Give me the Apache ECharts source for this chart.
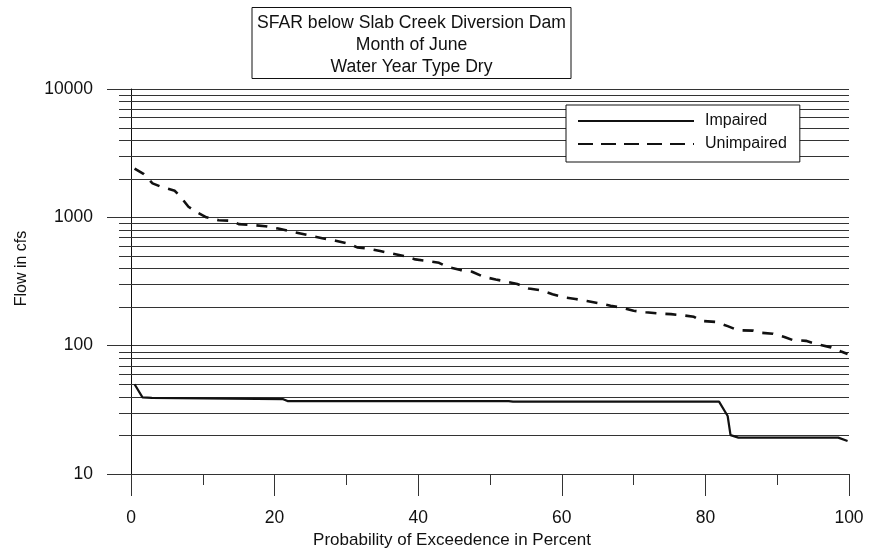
<!DOCTYPE html>
<html>
<head>
<meta charset="utf-8">
<script src="https://cdn.jsdelivr.net/npm/echarts@6/dist/echarts.min.js"></script>
<style>
  html, body { margin: 0; padding: 0; background: #fff; }
  #chart { width: 870px; height: 556px; }
</style>
</head>
<body>
<div id="chart"></div>
<script>
// Flow-duration values: exceedence probability (%) and flow (cfs)
const impairedPct = [0.5, 1.6, 2.9, 3.1, 21.2, 21.8, 52.6, 53.2, 81.9, 83.1, 83.5, 84.6, 98.5, 99.8];
const impairedCfs = [50, 39.5, 39.2, 38.3, 38.3, 37.0, 37.0, 36.6, 36.6, 28.3, 20.1, 19.2, 19.2, 18.1];

const unimpairedPct = [0.5, 1.8, 3.0, 4.3, 6.1, 7.1, 8.0, 9.1, 10.5, 12.2, 14.0, 15.0, 17.0, 18.7, 20.5,
  21.9, 23.6, 25.2, 26.8, 28.5, 30.5, 31.5, 33.1, 34.7, 36.3, 38.0, 39.6, 41.2, 42.9, 44.0,
  45.9, 47.5, 49.1, 50.8, 52.4, 53.8, 55.4, 57.0, 58.7, 60.3, 61.9, 63.5, 65.4, 66.8, 68.4,
  70.0, 71.7, 73.5, 75.2, 76.6, 78.4, 79.4, 81.5, 83.1, 84.5, 86.6, 87.7, 89.4, 91.0, 92.1,
  94.0, 95.2, 97.5, 98.9, 99.8];
const unimpairedCfs = [2400, 2170, 1840, 1720, 1610, 1400, 1210, 1100, 1000, 950, 940, 885, 870, 853, 818,
  785, 749, 714, 685, 657, 618, 583, 570, 546, 523, 499, 470, 458, 442, 412,
  388, 377, 344, 328, 315, 302, 279, 271, 252, 238, 231, 223, 213, 205, 197,
  187, 182, 178, 176, 173, 168, 156, 153, 142, 132, 131, 126, 124, 117, 111,
  109, 104, 97, 90, 86];

// Intermediate log-scale gridlines between the decades
const minorFlowTicks = [20, 30, 40, 50, 60, 70, 80, 90,
  200, 300, 400, 500, 600, 700, 800, 900,
  2000, 3000, 4000, 5000, 6000, 7000, 8000, 9000];

const titleLines = ['SFAR below Slab Creek Diversion Dam', 'Month of June', 'Water Year Type Dry'];
const seriesNames = ['Impaired', 'Unimpaired'];

const FONT = 'Liberation Sans, Arial, sans-serif';
const INK = '#111';
const GRID_INK = '#333';

const zip = (xs, ys) => xs.map((x, i) => [x, ys[i]]);

const chart = echarts.init(document.getElementById('chart'), null, { renderer: 'canvas' });

chart.setOption({
  animation: false,
  backgroundColor: '#fff',
  textStyle: { fontFamily: FONT, color: INK },
  title: {
    text: titleLines.join('\n'),
    left: 406.5,
    top: 7,
    textAlign: 'center',
    padding: [5, 5, 1, 5],
    borderColor: INK,
    borderWidth: 1,
    textStyle: { fontFamily: FONT, fontSize: 17.6, fontWeight: 'normal', color: INK, lineHeight: 22 }
  },
  legend: {
    data: [
      { name: seriesNames[0] },
      { name: seriesNames[1], lineStyle: { type: [15, 8] } }
    ],
    orient: 'vertical',
    left: 566,
    top: 105,
    padding: [8, 13, 10, 11],
    itemGap: 7,
    itemWidth: 116,
    itemHeight: 14,
    itemStyle: { opacity: 0 },
    backgroundColor: '#fff',
    borderColor: INK,
    borderWidth: 1,
    borderRadius: 0,
    textStyle: { fontFamily: FONT, fontSize: 16, color: INK, padding: [0, 0, 0, 6] }
  },
  grid: { left: 131, right: 21, top: 89, bottom: 82, containLabel: false },
  xAxis: {
    type: 'value',
    min: 0,
    max: 100,
    interval: 20,
    name: 'Probability of Exceedence in Percent',
    nameLocation: 'middle',
    nameGap: 56,
    nameTextStyle: { fontFamily: FONT, fontSize: 17, color: INK, padding: [0, 76, 0, 0] },
    axisLine: { show: true, lineStyle: { color: GRID_INK, width: 1 } },
    axisTick: { show: true, length: 22, lineStyle: { color: GRID_INK, width: 1 } },
    minorTick: { show: true, splitNumber: 2, length: 11, lineStyle: { color: GRID_INK, width: 1 } },
    splitLine: { show: false },
    axisLabel: { fontFamily: FONT, fontSize: 17.5, color: INK, margin: 35 }
  },
  yAxis: {
    type: 'log',
    logBase: 10,
    min: 10,
    max: 10000,
    name: 'Flow in cfs',
    nameLocation: 'middle',
    nameGap: 101,
    nameRotate: 90,
    nameTextStyle: { fontFamily: FONT, fontSize: 16, color: INK, padding: [0, 0, 0, 26] },
    axisLine: { show: true, lineStyle: { color: INK, width: 1 } },
    axisTick: { show: true, length: 24, lineStyle: { color: GRID_INK, width: 1 } },
    splitLine: { show: true, lineStyle: { color: GRID_INK, width: 1 } },
    axisLabel: {
      fontFamily: FONT, fontSize: 17.5, color: INK, margin: 38,
      formatter: v => String(Math.round(v))
    }
  },
  series: [
    {
      // minor log gridlines, each with a short outward tick at the left
      type: 'custom',
      name: 'minorGrid',
      silent: true,
      z: 1,
      clip: false,
      data: minorFlowTicks.map(v => [0, v]),
      encode: { x: 0, y: 1 },
      renderItem: function (params, api) {
        const a = api.coord([0, api.value(1)]);
        const b = api.coord([100, api.value(1)]);
        const y = Math.round(a[1]) + 0.5;
        return {
          type: 'line',
          shape: { x1: a[0] - 12, y1: y, x2: b[0], y2: y },
          style: { stroke: GRID_INK, lineWidth: 1 }
        };
      }
    },
    {
      name: seriesNames[0],
      type: 'line',
      z: 3,
      symbol: 'none',
      data: zip(impairedPct, impairedCfs),
      lineStyle: { color: INK, width: 2.2, type: 'solid' },
      itemStyle: { color: INK }
    },
    {
      name: seriesNames[1],
      type: 'line',
      z: 3,
      symbol: 'none',
      data: zip(unimpairedPct, unimpairedCfs),
      lineStyle: { color: INK, width: 2.6, type: [11, 9] },
      itemStyle: { color: INK }
    }
  ]
});
</script>
</body>
</html>
